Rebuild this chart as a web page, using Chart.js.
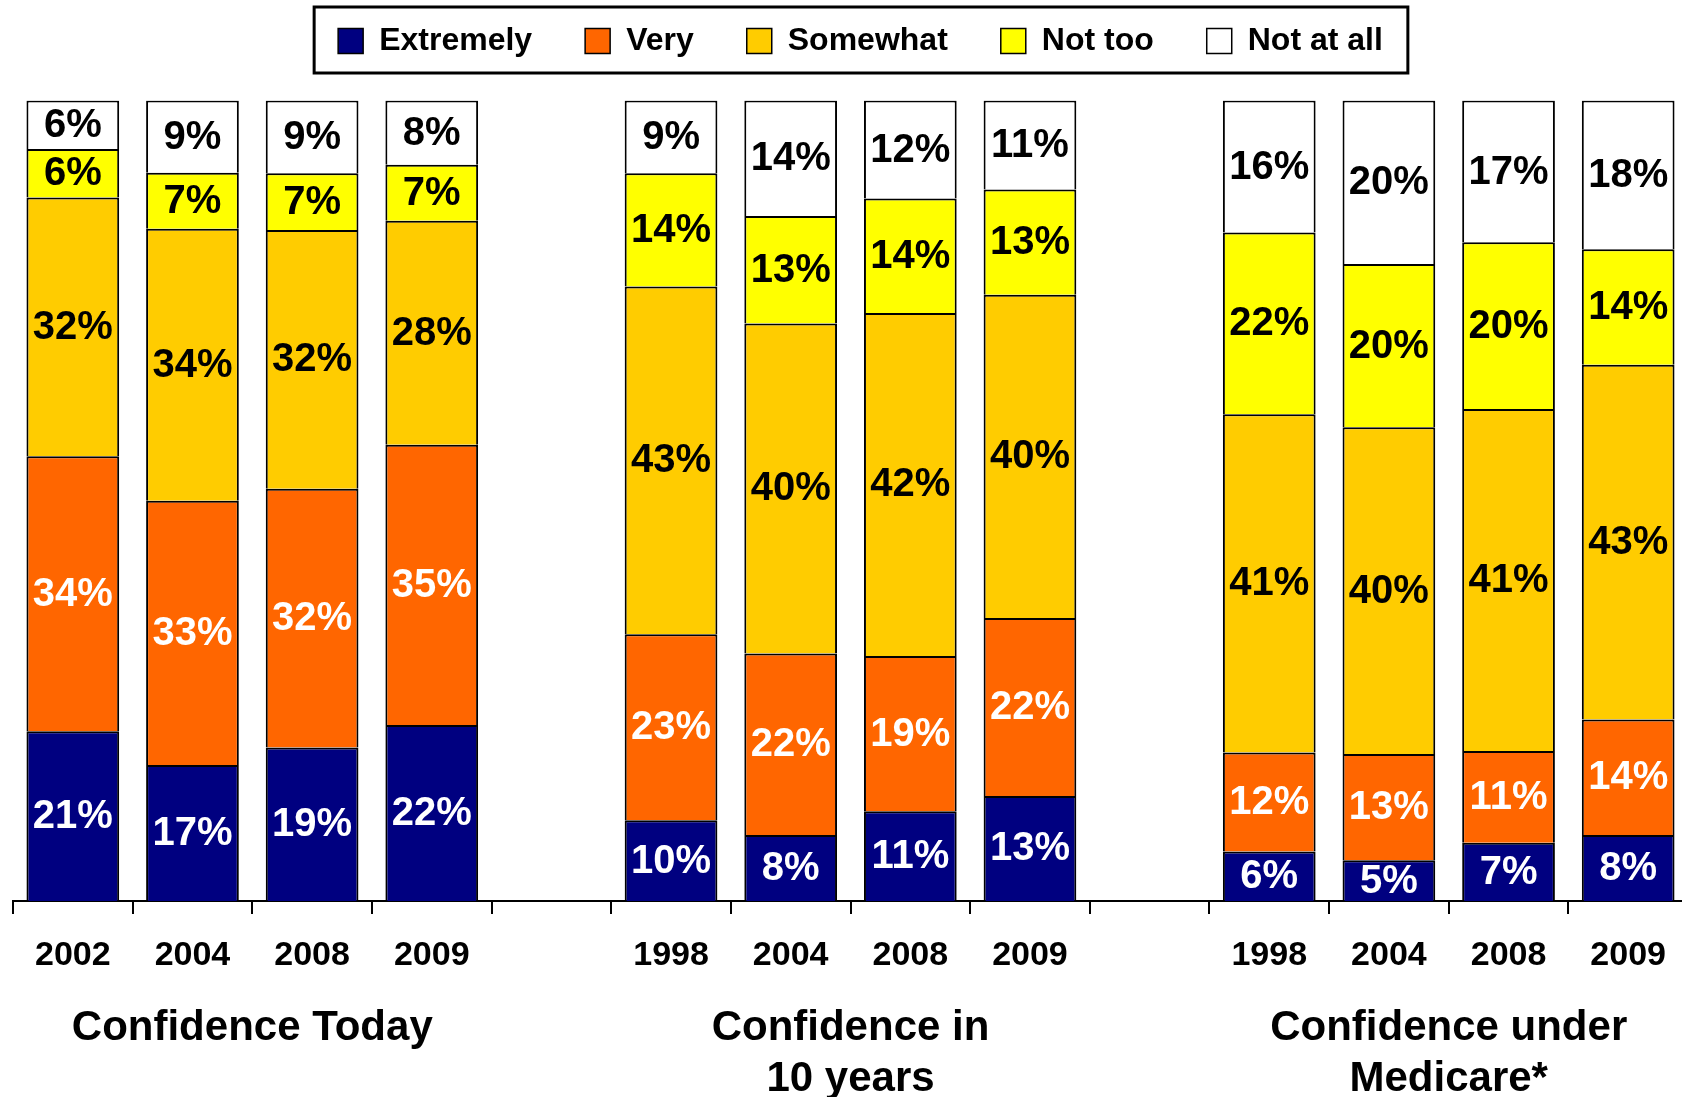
<!DOCTYPE html>
<html>
<head>
<meta charset="utf-8">
<script src="https://cdn.jsdelivr.net/npm/chart.js@4.4.1/dist/chart.umd.min.js"></script>
<style>
  html, body { margin: 0; padding: 0; background: #fff; overflow: hidden; }
</style>
</head>
<body>
<!-- slightly wider than the window: the original picture is cut off on the right -->
<canvas id="chart" width="1690" height="1097"></canvas>
<script>
// categories (empty strings are the gaps between groups)
const years = ['2002', '2004', '2008', '2009', '', '1998', '2004', '2008', '2009', '', '1998', '2004', '2008', '2009']

// answers in %, as printed on the bars
const extremely = [21, 17, 19, 22, null, 10, 8, 11, 13, null, 6, 5, 7, 8]
const very = [34, 33, 32, 35, null, 23, 22, 19, 22, null, 12, 13, 11, 14]
const somewhat = [32, 34, 32, 28, null, 43, 40, 42, 40, null, 41, 40, 41, 43]
const notToo = [6, 7, 7, 7, null, 14, 13, 14, 13, null, 22, 20, 20, 14]
const notAtAll = [6, 9, 9, 8, null, 9, 14, 12, 11, null, 16, 20, 17, 18]

const seriesNames = ['Extremely', 'Very', 'Somewhat', 'Not too', 'Not at all']
const seriesColors = ['#000080', '#FF6600', '#FFCC00', '#FFFF00', '#FFFFFF']
const labelColors = ['#FFFFFF', '#FFFFFF', '#000000', '#000000', '#000000']

const groupTitles = [['Confidence Today'], ['Confidence in', '10 years'], ['Confidence under', 'Medicare*']]
const groupSpans = [[0, 3], [5, 8], [10, 13]]

const series = [extremely, very, somewhat, notToo, notAtAll]
const FONT = "'Liberation Sans', Arial, sans-serif"
Chart.defaults.font.family = FONT
Chart.defaults.color = '#000'

// bars are stacked to 100% of the answers given
const totals = years.map((_, j) => series.reduce((s, arr) => s + (arr[j] || 0), 0))
const shares = series.map(arr => arr.map((v, j) => v == null ? null : v / totals[j] * 100))

const barLabels = {
  id: 'barLabels',
  afterDatasetsDraw(chart) {
    const ctx = chart.ctx
    ctx.save()
    ctx.font = 'bold 40px ' + FONT
    ctx.textAlign = 'center'
    ctx.textBaseline = 'middle'
    series.forEach((arr, i) => {
      const meta = chart.getDatasetMeta(i)
      meta.data.forEach((bar, j) => {
        if (arr[j] == null) return
        ctx.fillStyle = labelColors[i]
        ctx.fillText(arr[j] + '%', bar.x, (bar.y + bar.base) / 2 + 1)
      })
    })
    ctx.restore()
  }
}

const extras = {
  id: 'extras',
  afterLayout(chart) {
    // legend sits a little right of the plot centre
    chart.legend.left += 10
    chart.legend.right += 10
  },
  afterDraw(chart) {
    const ctx = chart.ctx
    const x = chart.scales.x
    ctx.save()
    // frame round the legend
    const hb = chart.legend.legendHitBoxes
    if (hb && hb.length) {
      const left = hb[0].left - 24
      const right = hb[hb.length - 1].left + hb[hb.length - 1].width + 25
      ctx.strokeStyle = '#000'
      ctx.lineWidth = 3
      ctx.strokeRect(left, 7, right - left, 66)
    }
    // group titles under the years
    ctx.font = 'bold 42px ' + FONT
    ctx.fillStyle = '#000'
    ctx.textAlign = 'center'
    ctx.textBaseline = 'middle'
    groupTitles.forEach((lines, g) => {
      const cx = (x.getPixelForValue(groupSpans[g][0]) + x.getPixelForValue(groupSpans[g][1])) / 2
      lines.forEach((line, k) => {
        ctx.fillText(line, cx, chart.chartArea.bottom + 127 + k * 51)
      })
    })
    ctx.restore()
  }
}

new Chart(document.getElementById('chart'), {
  type: 'bar',
  data: {
    labels: years,
    datasets: shares.map((data, i) => ({
      label: seriesNames[i],
      data: data,
      backgroundColor: seriesColors[i],
      borderColor: '#000',
      borderWidth: { top: 2, left: 2, right: 2, bottom: 0 },
      borderSkipped: false,
      barPercentage: 0.775,
      categoryPercentage: 1
    }))
  },
  options: {
    responsive: false,
    animation: false,
    devicePixelRatio: 1,
    layout: { padding: { top: -28, left: 13, right: 2, bottom: 0 } },
    plugins: {
      legend: {
        position: 'top',
        labels: {
          boxWidth: 25,
          boxHeight: 25,
          padding: 53,
          color: '#000',
          font: { size: 32, weight: 'bold' }
        }
      },
      title: { display: true, text: '', weight: 500, padding: 0, font: { size: 28 } },
      tooltip: { enabled: false }
    },
    scales: {
      x: {
        stacked: true,
        grid: { offset: true, drawOnChartArea: false, drawTicks: true, tickLength: 13, color: '#000', lineWidth: 2 },
        border: { display: true, color: '#000', width: 2 },
        ticks: { autoSkip: false, maxRotation: 0, padding: 21, color: '#000', font: { size: 34, weight: 'bold' } },
        afterFit(scale) { scale.height = 196 }
      },
      y: {
        stacked: true,
        display: false,
        min: 0,
        max: 100
      }
    }
  },
  plugins: [barLabels, extras]
})
</script>
</body>
</html>
